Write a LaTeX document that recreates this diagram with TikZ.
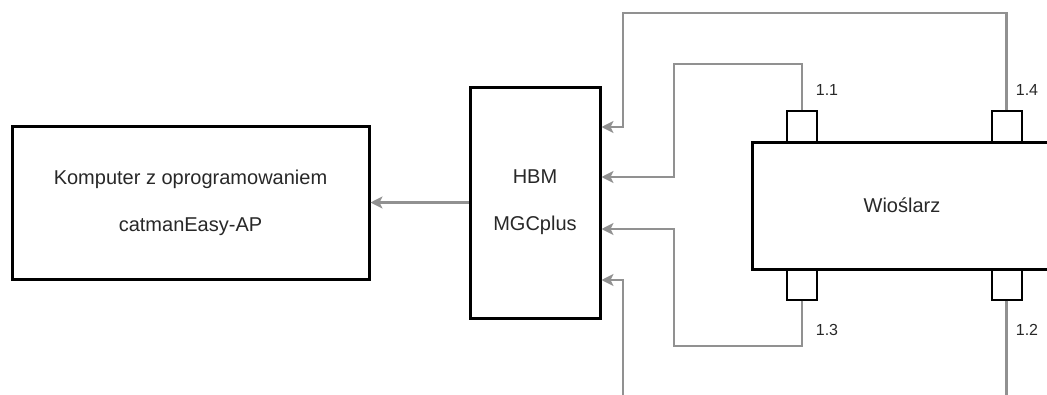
\documentclass[tikz,border=0pt]{standalone}
\usepackage{fontspec}
\setmainfont{Liberation Sans}
\usetikzlibrary{arrows.meta}
\definecolor{conngray}{RGB}{145,145,145}
\definecolor{txtgray}{RGB}{40,40,40}
\tikzset{
  bigbox/.style={draw=black, line width=3pt, fill=white, align=center, inner sep=0pt,
    text=txtgray, font=\fontsize{20}{47}\selectfont},
  port/.style={draw=black, line width=2pt, fill=white, minimum width=30pt, minimum height=31pt, inner sep=0pt},
  conn/.style={draw=conngray, line width=2.2pt, -{Stealth[length=12pt,width=12pt,inset=3pt]}},
  plabel/.style={font=\fontsize{16}{18}\selectfont, text=txtgray, inner sep=0pt}
}
\begin{document}
\begin{tikzpicture}[x=1pt,y=-1pt]
\useasboundingbox (0,0) rectangle (1047,394);
\clip (0,0) rectangle (1047,394);
\node[bigbox, minimum width=357pt, minimum height=153pt] (comp) at (190.5,202.5) {Komputer z oprogramowaniem\\catmanEasy-AP};
\node[bigbox, minimum width=130pt, minimum height=231pt] (hbm) at (535,202.5) {HBM\\MGCplus};
\node[port] (p11) at (802,126.5) {};
\node[port] (p14) at (1006.5,126.5) {};
\node[port] (p13) at (802,284) {};
\node[port] (p12) at (1006.5,284) {};
\node[bigbox, minimum width=300pt, minimum height=127pt] (wio) at (902,205.5) {Wioślarz};
\node[plabel] (l11) at (827,90) {1.1};
\node[plabel] (l14) at (1027,90) {1.4};
\node[plabel] (l13) at (827,330) {1.3};
\node[plabel] (l12) at (1027,330) {1.2};
\coordinate (b14) at (623,13);
\coordinate (b11) at (674,64);
\coordinate (b13) at (674,346);
\coordinate (b12) at (623,410);
\draw[conn] (hbm.west) -- (comp.east);
\draw[conn] (p14.north) |- (b14) |- ([yshift=75.5pt]hbm.east);
\draw[conn] (p11.north) |- (b11) |- ([yshift=25.5pt]hbm.east);
\draw[conn] (p13.south) |- (b13) |- ([yshift=-26.5pt]hbm.east);
\draw[conn] (p12.south) |- (b12) |- ([yshift=-77.5pt]hbm.east);
\end{tikzpicture}
\end{document}
